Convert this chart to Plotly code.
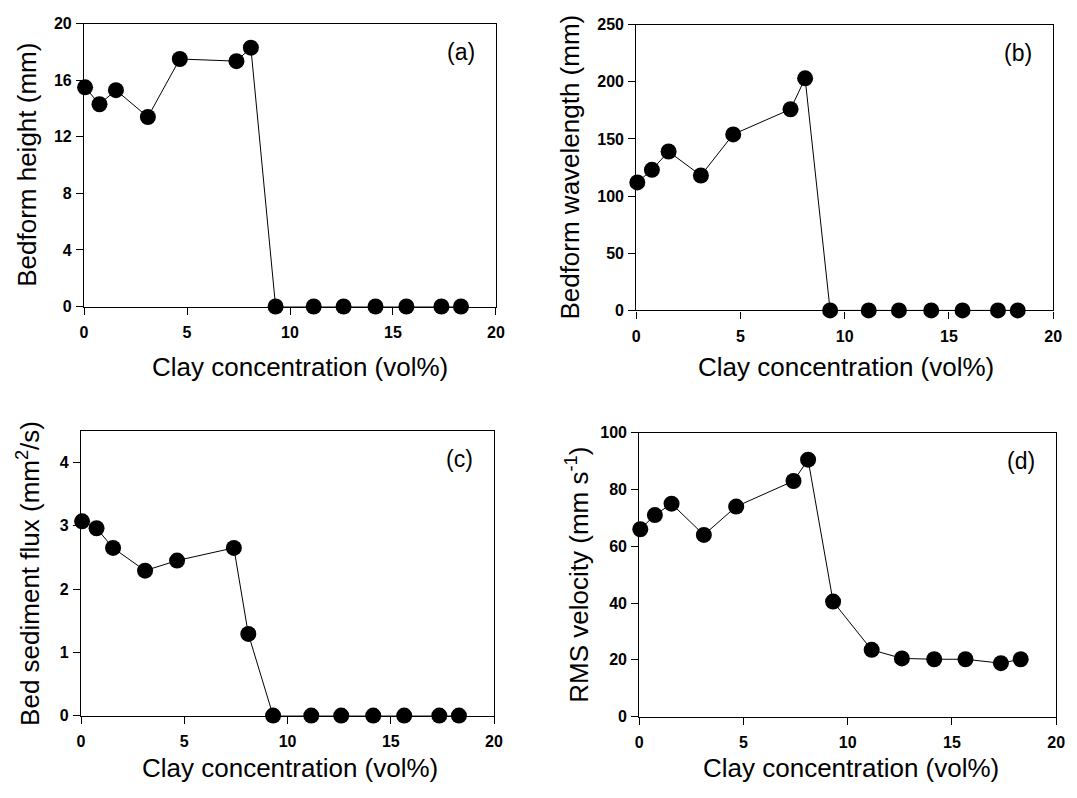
import plotly.graph_objects as go

# ---- data ----
clay = [0.05, 0.75, 1.55, 3.1, 4.65, 7.4, 8.1, 9.3, 11.15, 12.6, 14.15, 15.65, 17.35, 18.3]
bed_height = [15.5, 14.3, 15.3, 13.4, 17.5, 17.35, 18.3, 0, 0, 0, 0, 0, 0, 0]
bed_wavelength = [112, 123, 139, 118, 154, 176, 203, 0, 0, 0, 0, 0, 0, 0]
bed_flux = [3.07, 2.96, 2.65, 2.29, 2.45, 2.65, 1.29, 0, 0, 0, 0, 0, 0, 0]
rms_velocity = [66, 71, 75, 64, 74, 83, 90.5, 40.5, 23.5, 20.5, 20.2, 20.2, 18.8, 20.2]

x_ticks = [0, 5, 10, 15, 20]
panels = [
    dict(y=bed_height, yticks=[0, 4, 8, 12, 16, 20], yrange=[0, 20], label="(a)",
         ytitle="Bedform height (mm)"),
    dict(y=bed_wavelength, yticks=[0, 50, 100, 150, 200, 250], yrange=[0, 250], label="(b)",
         ytitle="Bedform wavelength (mm)"),
    dict(y=bed_flux, yticks=[0, 1, 2, 3, 4], yrange=[0, 4.5], label="(c)",
         ytitle="Bed sediment flux (mm<sup>2</sup>/s)"),
    dict(y=rms_velocity, yticks=[0, 20, 40, 60, 80, 100], yrange=[0, 100], label="(d)",
         ytitle="RMS velocity (mm s<sup>-1</sup>)"),
]

W, H = 1077, 798
# plot-area pixel boxes in page coordinates (left, right, top, bottom)
boxes = [(81, 498, 16, 305), (640, 1062, 17, 309), (78, 496, 432, 723), (643, 1065, 434, 724)]
ytitle_x = [23, 572, 25, 581]
xtitle_pos = [(300, 367), (852, 367), (289, 777), (857, 777)]


def fx(px):
    return px / W


def fy(py):
    return 1 - py / H


FONT = "Liberation Sans, Arial, sans-serif"

fig = go.Figure()
layout = dict(
    width=W, height=H, margin=dict(l=0, r=0, t=0, b=0),
    paper_bgcolor="white", plot_bgcolor="white", showlegend=False,
    font=dict(family=FONT, color="black"),
)
annotations = []
for i, (p, box) in enumerate(zip(panels, boxes)):
    n = "" if i == 0 else str(i + 1)
    l, r, t, b = box
    common = dict(showline=True, linecolor="black", linewidth=1.2, mirror=True,
                  ticks="outside", ticklen=7, tickwidth=1, tickcolor="black",
                  showgrid=False, zeroline=False,
                  tickfont=dict(family=FONT, size=16, color="black"))
    layout["xaxis" + n] = dict(common, domain=[fx(l), fx(r)], range=[0, 20],
                               tickvals=x_ticks, ticktext=["<b>%g</b>" % v for v in x_ticks],
                               anchor="y" + n, ticklabelstandoff=4)
    layout["yaxis" + n] = dict(common, domain=[fy(b), fy(t)], range=p["yrange"],
                               tickvals=p["yticks"], ticktext=["<b>%g</b>" % v for v in p["yticks"]],
                               anchor="x" + n, ticklabelstandoff=1)
    fig.add_trace(go.Scatter(
        x=clay, y=p["y"], mode="lines+markers", xaxis="x" + n, yaxis="y" + n,
        line=dict(color="black", width=1),
        marker=dict(color="black", size=16, symbol="circle"),
        cliponaxis=False,
    ))
    annotations.append(dict(text=p["label"], xref="x" + n + " domain", yref="y" + n + " domain",
                            x=0.916, y=0.9, showarrow=False, xanchor="center", yanchor="middle",
                            font=dict(family=FONT, size=23, color="black")))
    annotations.append(dict(text=p["ytitle"], xref="paper", yref="paper",
                            x=fx(ytitle_x[i]), y=fy((t + b) / 2), textangle=-90,
                            showarrow=False, xanchor="center", yanchor="middle",
                            font=dict(family=FONT, size=26, color="black")))
    xt = xtitle_pos[i]
    annotations.append(dict(text="Clay concentration (vol%)", xref="paper", yref="paper",
                            x=fx(xt[0]), y=fy(xt[1]), showarrow=False,
                            xanchor="center", yanchor="middle",
                            font=dict(family=FONT, size=26, color="black")))

layout["annotations"] = annotations
fig.update_layout(**layout)
# remove the page's default body margin so the figure sits at the window origin
fig.write_html("out.html", config={"displayModeBar": False},
               post_script="document.body.style.margin='0px';"
                           "document.documentElement.style.overflow='hidden';")
